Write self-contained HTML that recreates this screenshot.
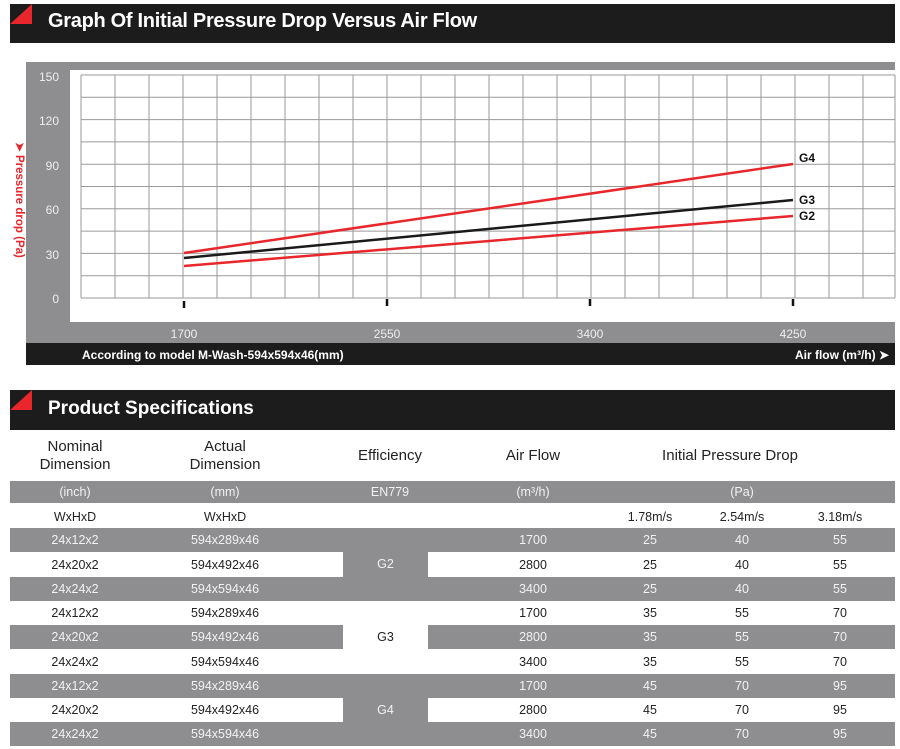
<!DOCTYPE html>
<html><head><meta charset="utf-8"><style>
body{margin:0;width:900px;height:749px;background:#fff;position:relative;overflow:hidden;font-family:"Liberation Sans",sans-serif}
.a{position:absolute}
.bar{background:#1c1c1c;color:#fff;font-weight:bold}
.tri{width:0;height:0;border-top:20px solid transparent;border-right:22px solid #e8262b}
.row{position:absolute;left:10px;width:885px;height:24px;font-size:12.5px;color:#222}
.row span{position:absolute;top:5px;transform:translateX(-50%);white-space:nowrap}
.g{background:#8e8e91;color:#f2f2f2}
.hd{position:absolute;font-size:15px;color:#222;text-align:center;line-height:18px;transform:translateX(-50%)}
</style></head><body>
<div class="a bar" style="left:10px;top:4px;width:885px;height:39px"></div>
<div class="a tri" style="left:10px;top:4px"></div>
<div class="a" style="left:48px;top:10px;color:#fff;font-weight:bold;font-size:20px;letter-spacing:-0.3px">Graph Of Initial Pressure Drop Versus Air Flow</div>

<svg class="a" style="left:0;top:0" width="900" height="380">
<rect x="26" y="62" width="869" height="303" fill="#8e8e91"/>
<rect x="70" y="70" width="825" height="252" fill="#fff"/>
<g stroke="#999" stroke-width="1">
<script></script>
</g>
<g id="grid" stroke="#9a9a9a" stroke-width="1" fill="none">
<path d="M81 75H895M81 97.3H895M81 119.6H895M81 141.9H895M81 164.2H895M81 186.5H895M81 208.8H895M81 231.1H895M81 253.4H895M81 275.7H895M81 298H895"/>
<path d="M81 75V298M115 75V298M149 75V298M183 75V298M217 75V298M251 75V298M285 75V298M319 75V298M353 75V298M387 75V298M421 75V298M455 75V298M489 75V298M523 75V298M557 75V298M591 75V298M625 75V298M659 75V298M693 75V298M727 75V298M761 75V298M795 75V298M829 75V298M863 75V298M895 75V298"/>
</g>
<g stroke="#111" stroke-width="2.5"><path d="M184 301V308M387 299V306M590 299V306M793 299V306"/></g>
<line x1="184" y1="253" x2="793" y2="164" stroke="#e8262b" stroke-width="2.5"/>
<line x1="184" y1="258" x2="793" y2="200" stroke="#1a1a1a" stroke-width="2.5"/>
<line x1="184" y1="266" x2="793" y2="216" stroke="#e8262b" stroke-width="2.5"/>
<g font-family="Liberation Sans" font-weight="bold" font-size="12" fill="#111">
<text x="799" y="162">G4</text><text x="799" y="204">G3</text><text x="799" y="220">G2</text></g>
<g font-family="Liberation Sans" font-size="12" fill="#eee" text-anchor="end">
<text x="59" y="81">150</text><text x="59" y="125">120</text><text x="59" y="170">90</text><text x="59" y="214">60</text><text x="59" y="259">30</text><text x="59" y="303">0</text></g>
<g font-family="Liberation Sans" font-size="12" fill="#eee" text-anchor="middle">
<text x="184" y="338">1700</text><text x="387" y="338">2550</text><text x="590" y="338">3400</text><text x="793" y="338">4250</text></g>
<text transform="translate(16,200) rotate(90)" text-anchor="middle" font-family="Liberation Sans" font-weight="bold" font-size="11.5" fill="#e8262b">➤ Pressure drop (Pa)</text>
<rect x="26" y="343" width="869" height="22" fill="#1c1c1c"/>
<text x="82" y="359" font-family="Liberation Sans" font-weight="bold" font-size="12" fill="#fff">According to model M-Wash-594x594x46(mm)</text>
<text x="889" y="359" text-anchor="end" font-family="Liberation Sans" font-weight="bold" font-size="12" fill="#fff">Air flow (m³/h) ➤</text>
</svg>

<div class="a bar" style="left:10px;top:390px;width:885px;height:40px"></div>
<div class="a tri" style="left:10px;top:390px"></div>
<div class="a" style="left:48px;top:398px;color:#fff;font-weight:bold;font-size:19px">Product Specifications</div>

<div class="hd" style="left:75px;top:438px">Nominal<br>Dimension</div>
<div class="hd" style="left:225px;top:438px">Actual<br>Dimension</div>
<div class="hd" style="left:390px;top:447px">Efficiency</div>
<div class="hd" style="left:533px;top:447px">Air Flow</div>
<div class="hd" style="left:730px;top:447px">Initial Pressure Drop</div>

<div class="row g" style="top:481px;height:22px"><span style="left:65px;top:4px">(inch)</span><span style="left:215px;top:4px">(mm)</span><span style="left:380px;top:4px">EN779</span><span style="left:523px;top:4px">(m³/h)</span><span style="left:732px;top:4px">(Pa)</span></div>
<div class="row" style="top:505px"><span style="left:65px">WxHxD</span><span style="left:215px">WxHxD</span><span style="left:640px">1.78m/s</span><span style="left:732px">2.54m/s</span><span style="left:830px">3.18m/s</span></div>

<div class="row g" style="top:528px"><span style="left:65px">24x12x2</span><span style="left:215px">594x289x46</span><span style="left:523px">1700</span><span style="left:640px">25</span><span style="left:732px">40</span><span style="left:830px">55</span></div>
<div class="row" style="top:553px"><span style="left:65px">24x20x2</span><span style="left:215px">594x492x46</span><span style="left:523px">2800</span><span style="left:640px">25</span><span style="left:732px">40</span><span style="left:830px">55</span></div>
<div class="row g" style="top:577px"><span style="left:65px">24x24x2</span><span style="left:215px">594x594x46</span><span style="left:523px">3400</span><span style="left:640px">25</span><span style="left:732px">40</span><span style="left:830px">55</span></div>
<div class="row" style="top:601px"><span style="left:65px">24x12x2</span><span style="left:215px">594x289x46</span><span style="left:523px">1700</span><span style="left:640px">35</span><span style="left:732px">55</span><span style="left:830px">70</span></div>
<div class="row g" style="top:625px"><span style="left:65px">24x20x2</span><span style="left:215px">594x492x46</span><span style="left:523px">2800</span><span style="left:640px">35</span><span style="left:732px">55</span><span style="left:830px">70</span></div>
<div class="row" style="top:650px"><span style="left:65px">24x24x2</span><span style="left:215px">594x594x46</span><span style="left:523px">3400</span><span style="left:640px">35</span><span style="left:732px">55</span><span style="left:830px">70</span></div>
<div class="row g" style="top:674px"><span style="left:65px">24x12x2</span><span style="left:215px">594x289x46</span><span style="left:523px">1700</span><span style="left:640px">45</span><span style="left:732px">70</span><span style="left:830px">95</span></div>
<div class="row" style="top:698px"><span style="left:65px">24x20x2</span><span style="left:215px">594x492x46</span><span style="left:523px">2800</span><span style="left:640px">45</span><span style="left:732px">70</span><span style="left:830px">95</span></div>
<div class="row g" style="top:722px"><span style="left:65px">24x24x2</span><span style="left:215px">594x594x46</span><span style="left:523px">3400</span><span style="left:640px">45</span><span style="left:732px">70</span><span style="left:830px">95</span></div>

<div class="a g" style="left:343px;top:528px;width:85px;height:73px;font-size:12.5px;text-align:center;line-height:73px">G2</div>
<div class="a" style="left:343px;top:601px;width:85px;height:73px;background:#fff;color:#222;font-size:12.5px;text-align:center;line-height:73px">G3</div>
<div class="a g" style="left:343px;top:674px;width:85px;height:72px;font-size:12.5px;text-align:center;line-height:72px">G4</div>
</body></html>
